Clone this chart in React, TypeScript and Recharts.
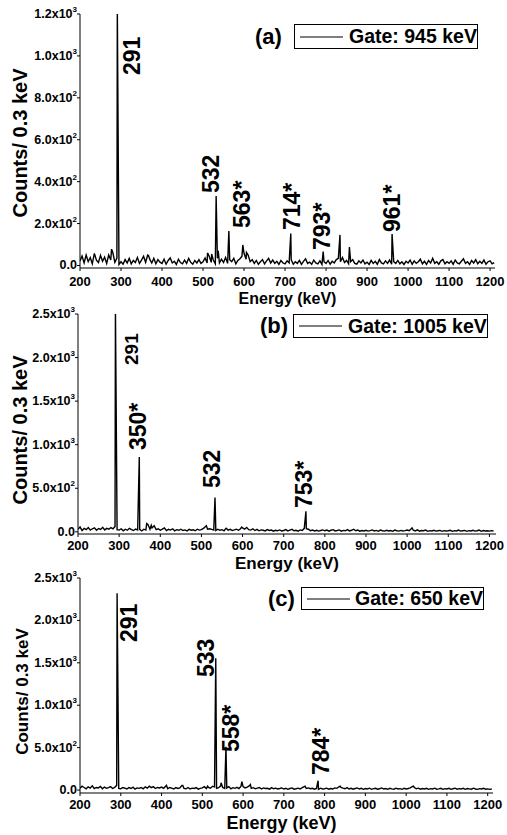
import { Legend, Line, LineChart, ReferenceDot, XAxis, YAxis } from 'recharts';

const FONT = '"Liberation Sans", Arial, Helvetica, sans-serif';

// baseline counts per 0.3 keV, read every 5 keV from 200 keV up to 1210 keV
const baseA = [
  22, 45, 12, 50, 18, 38, 8, 58, 25, 14, 48, 20, 40, 10, 50, 26, 62, 15, 35, 5,
  18, 6, 28, 12, 34, 8, 24, 14, 38, 10, 26, 44, 15, 50, 30, 12, 34, 8, 28, 16,
  10, 30, 6, 24, 36, 12, 20, 5, 30, 14, 8, 26, 10, 34, 15, 6, 24, 12, 28, 10,
  18, 36, 12, 44, 15, 26, 8, 34, 12, 30, 14, 38, 10, 28, 18, 34, 8, 24, 32, 44,
  58, 30, 50, 18, 28, 10, 24, 6, 18, 28, 8, 22, 34, 12, 26, 10, 20, 5, 24, 12,
  8, 22, 12, 28, 6, 18, 10, 24, 5, 20, 32, 10, 16, 6, 26, 12, 8, 22, 5, 18,
  10, 24, 6, 20, 12, 28, 34, 18, 38, 14, 24, 8, 18, 28, 10, 6, 22, 12, 26, 8,
  16, 5, 24, 10, 20, 6, 28, 12, 8, 22, 10, 26, 6, 18, 10, 24, 8, 18, 5, 20,
  12, 26, 6, 22, 10, 18, 30, 8, 20, 5, 24, 12, 34, 10, 18, 6, 22, 28, 8, 18,
  10, 22, 6, 26, 12, 8, 20, 32, 10, 18, 5, 24, 12, 28, 8, 20, 10, 26, 6, 18,
  22, 8, 14,
];
const baseB = [
  30, 55, 15, 40, 25, 50, 20, 35, 45, 18, 38, 28, 52, 22, 40, 30, 48, 35, 60, 25,
  20, 35, 12, 30, 18, 40, 25, 15, 32, 22, 28, 10, 30, 20, 85, 30, 45, 70, 25, 35,
  18, 30, 45, 15, 28, 20, 35, 12, 25, 18, 30, 15, 22, 10, 28, 18, 24, 12, 30, 20,
  25, 40, 60, 30, 35, 28, 20, 15, 30, 18, 25, 12, 42, 20, 28, 15, 22, 30, 18, 35,
  45, 30, 50, 25, 20, 35, 15, 28, 12, 22, 18, 10, 25, 15, 20, 8, 18, 12, 22, 10,
  15, 25, 10, 20, 28, 12, 18, 8, 22, 15, 40, 35, 30, 12, 20, 10, 18, 8, 15, 22,
  12, 20, 8, 18, 25, 10, 15, 22, 8, 16, 12, 25, 10, 18, 30, 12, 20, 8, 15, 10,
  18, 8, 14, 22, 10, 16, 6, 20, 12, 8, 18, 10, 15, 6, 20, 12, 8, 16, 10, 14,
  20, 12, 35, 18, 10, 22, 8, 15, 12, 20, 6, 14, 10, 18, 8, 12, 16, 6, 14, 10,
  12, 18, 6, 14, 10, 20, 8, 12, 16, 6, 14, 10, 18, 8, 12, 20, 6, 15, 10, 12,
  8, 14, 10,
];
const baseC = [
  20, 45, 30, 15, 38, 22, 50, 18, 30, 25, 42, 15, 35, 20, 28, 40, 18, 32, 55, 20,
  15, 30, 22, 12, 28, 18, 35, 10, 25, 20, 30, 15, 38, 22, 45, 28, 40, 18, 30, 25,
  35, 20, 45, 15, 30, 22, 12, 28, 18, 25, 55, 20, 15, 30, 12, 22, 18, 28, 10, 20,
  25, 40, 18, 30, 22, 45, 35, 20, 28, 50, 30, 18, 25, 40, 15, 28, 20, 32, 18, 45,
  40, 25, 35, 48, 20, 28, 15, 22, 30, 12, 25, 18, 20, 10, 28, 15, 22, 12, 18, 25,
  12, 20, 8, 18, 25, 10, 15, 22, 12, 28, 40, 18, 25, 15, 20, 10, 18, 8, 22, 12,
  15, 22, 10, 18, 12, 25, 20, 38, 30, 22, 15, 28, 12, 20, 10, 18, 25, 12, 20, 8,
  18, 12, 22, 8, 16, 20, 10, 15, 25, 12, 18, 8, 20, 14, 10, 22, 12, 16, 8, 20,
  12, 18, 25, 40, 30, 15, 22, 10, 18, 12, 20, 8, 16, 12, 22, 10, 14, 20, 8, 16,
  12, 20, 8, 15, 22, 10, 16, 12, 20, 8, 18, 14, 10, 22, 12, 8, 16, 12, 20, 10,
  14, 8, 12,
];

// peaks (keV, counts)
const peakEA = [277, 291, 367, 511, 521, 532, 537, 563, 597, 606, 714, 793, 834, 857, 961];
const peakCA = [78, 1230, 48, 60, 55, 332, 70, 165, 98, 62, 152, 66, 146, 88, 150];
const peakEB = [291, 349, 367, 378, 512, 533, 598, 754, 1012];
const peakCB = [2560, 860, 95, 75, 70, 395, 55, 235, 45];
const peakEC = [291, 412, 452, 513, 533, 546, 558, 597, 618, 752, 784, 838, 1018];
const peakCC = [2320, 55, 55, 45, 1555, 85, 510, 100, 65, 45, 110, 45, 45];

// peak annotations: text, and the energy / count where the text starts
const tagTextA = ['291', '532', '563*', '714*', '793*', '961*'];
const tagEA = [326, 519, 594, 716, 789, 961];
const tagCA = [909, 346, 179, 169, 74, 160];
const tagTextB = ['291', '350*', '532', '753*'];
const tagEB = [331, 347, 526, 749];
const tagCB = [1915, 939, 503, 273];
const tagTextC = ['291', '533', '558*', '784*'];
const tagEC = [320, 509, 570, 791];
const tagCC = [1745, 1333, 448, 177];

const xTicks = [200, 300, 400, 500, 600, 700, 800, 900, 1000, 1100, 1200];
const xMinorTicks = [200, 250, 300, 350, 400, 450, 500, 550, 600, 650, 700, 750, 800, 850, 900, 950, 1000, 1050, 1100, 1150, 1200];
const yTicksA = [0, 200, 400, 600, 800, 1000, 1200];
const yLabelsA = ['0.0', '2.0x10^2', '4.0x10^2', '6.0x10^2', '8.0x10^2', '1.0x10^3', '1.2x10^3'];
const yMinorA = [0, 100, 200, 300, 400, 500, 600, 700, 800, 900, 1000, 1100, 1200];
const yTicksBC = [0, 500, 1000, 1500, 2000, 2500];
const yLabelsBC = ['0.0', '5.0x10^2', '1.0x10^3', '1.5x10^3', '2.0x10^3', '2.5x10^3'];
const yMinorBC = [0, 250, 500, 750, 1000, 1250, 1500, 1750, 2000, 2250, 2500];

function buildSpectrum(base: number[], peakE: number[], peakC: number[]) {
  const rows = base.map((c, i) => ({ e: 200 + i * 5, c }));
  peakE.forEach((e, i) => rows.push({ e, c: peakC[i] }));
  return rows.sort((a, b) => a.e - b.e);
}

type PanelProps = {
  top: number;
  height: number;
  mt: number;
  mr: number;
  yw: number;
  xh: number;
  xMax: number;
  yDomain: [number, number];
  yTicks: number[];
  yLabels: string[];
  yMinor: number[];
  data: { e: number; c: number }[];
  gate: string;
  tag: string;
  tagText: string[];
  tagE: number[];
  tagC: number[];
  tagSize: number[];
  xTickDy: number;
  xTitleDy: number;
  xTitleDx: number;
  xTitleSize: number;
  yTitleDy: number;
  yTitleX: number;
  yTitleSize: number;
  legend: { left: number; top: number; boxLeft: number; boxWidth: number; boxHeight: number };
};

function Panel(p: PanelProps) {
  const lg = p.legend;
  return (
    <div style={{ position: 'absolute', left: 0, top: p.top }}>
      <LineChart width={507} height={p.height} data={p.data} margin={{ top: p.mt, right: p.mr, bottom: 0, left: 0 }}>
        <XAxis
          dataKey="e"
          type="number"
          domain={[200, p.xMax]}
          ticks={xTicks}
          interval={0}
          allowDataOverflow
          height={p.xh}
          tickSize={3}
          tickMargin={0}
          axisLine={{ stroke: '#000' }}
          tickLine={{ stroke: '#000' }}
          tick={(t: any) => (
            <text x={t.x} y={t.y + p.xTickDy} textAnchor="middle" dominantBaseline="central" fontFamily={FONT} fontWeight="bold" fontSize={13} fill="#000">
              {t.payload.value}
            </text>
          )}
          label={{
            value: 'Energy (keV)',
            content: (l: any) => (
              <text
                x={l.viewBox.x + l.viewBox.width / 2 + p.xTitleDx}
                y={l.viewBox.y + p.xTitleDy}
                textAnchor="middle"
                dominantBaseline="central"
                fontFamily={FONT}
                fontWeight="bold"
                fontSize={p.xTitleSize}
                fill="#000"
              >
                Energy (keV)
              </text>
            ),
          }}
        />
        <XAxis
          xAxisId="top"
          orientation="top"
          type="number"
          domain={[200, p.xMax]}
          ticks={xMinorTicks}
          interval={0}
          allowDataOverflow
          height={0}
          mirror
          tick={false}
          tickSize={3}
          axisLine={{ stroke: '#000' }}
          tickLine={{ stroke: '#000' }}
        />
        <YAxis
          type="number"
          domain={p.yDomain}
          ticks={p.yTicks}
          interval={0}
          allowDataOverflow
          width={p.yw}
          tickSize={3}
          tickMargin={0}
          axisLine={{ stroke: '#000' }}
          tickLine={{ stroke: '#000' }}
          tick={(t: any) => {
            const lab = p.yLabels[p.yTicks.indexOf(t.payload.value)] ?? '';
            const [mant, exp] = lab.split('^');
            return (
              <text x={t.x} y={t.y} textAnchor="end" dominantBaseline="central" fontFamily={FONT} fontWeight="bold" fontSize={12.5} fill="#000">
                {mant}
                {exp && (
                  <tspan dy={-5} fontSize={8}>
                    {exp}
                  </tspan>
                )}
              </text>
            );
          }}
          label={{
            value: 'Counts/ 0.3 keV',
            content: (l: any) => {
              const cx = p.yTitleX;
              const cy = l.viewBox.y + l.viewBox.height / 2 + p.yTitleDy;
              return (
                <text
                  x={cx}
                  y={cy}
                  transform={`rotate(-90 ${cx} ${cy})`}
                  textAnchor="middle"
                  dominantBaseline="central"
                  fontFamily={FONT}
                  fontWeight="bold"
                  fontSize={p.yTitleSize}
                  fill="#000"
                >
                  Counts/ 0.3 keV
                </text>
              );
            },
          }}
        />
        <YAxis
          yAxisId="right"
          orientation="right"
          type="number"
          domain={p.yDomain}
          ticks={p.yMinor}
          interval={0}
          allowDataOverflow
          width={0}
          mirror
          tick={false}
          tickSize={3}
          axisLine={{ stroke: '#000' }}
          tickLine={{ stroke: '#000' }}
        />
        <Line
          type="linear"
          dataKey="c"
          name={p.gate}
          stroke="#000"
          strokeWidth={1.4}
          dot={false}
          activeDot={false}
          isAnimationActive={false}
        />
        {p.tagText.map((txt, i) => (
          <ReferenceDot
            key={txt}
            x={p.tagE[i]}
            y={p.tagC[i]}
            r={0}
            ifOverflow="visible"
            shape={(s: any) => (
              <text
                x={s.cx}
                y={s.cy}
                transform={`rotate(-90 ${s.cx} ${s.cy})`}
                textAnchor="start"
                dominantBaseline="central"
                fontFamily={FONT}
                fontWeight="bold"
                fontSize={p.tagSize[i]}
                fill="#000"
              >
                {txt}
              </text>
            )}
          />
        ))}
        <Legend
          layout="horizontal"
          verticalAlign="middle"
          wrapperStyle={{ top: lg.top, left: lg.left, width: lg.boxLeft - lg.left + lg.boxWidth, height: lg.boxHeight }}
          content={(props: any) => (
            <div style={{ display: 'flex', alignItems: 'center', fontFamily: FONT, fontWeight: 'bold', color: '#000' }}>
              <span style={{ fontSize: 22, width: lg.boxLeft - lg.left, lineHeight: `${lg.boxHeight}px` }}>{p.tag}</span>
              <div
                style={{
                  boxSizing: 'border-box',
                  border: '1px solid #000',
                  width: lg.boxWidth,
                  height: lg.boxHeight,
                  display: 'flex',
                  alignItems: 'center',
                }}
              >
                <svg width={49} height={4} style={{ marginLeft: 5 }}>
                  <line x1={0} y1={2} x2={43} y2={2} stroke="#000" strokeWidth={1.1} />
                </svg>
                <span style={{ fontSize: 19.5, whiteSpace: 'nowrap' }}>{props.payload?.[0]?.value}</span>
              </div>
            </div>
          )}
        />
      </LineChart>
    </div>
  );
}

export default function App() {
  return (
    <div style={{ position: 'absolute', left: 0, top: 0, width: 507, height: 835, background: '#fff', overflow: 'hidden' }}>
      <Panel
        top={0}
        height={310}
        mt={14}
        mr={12}
        yw={80}
        xh={42}
        xMax={1212}
        yDomain={[-12, 1200]}
        yTicks={yTicksA}
        yLabels={yLabelsA}
        yMinor={yMinorA}
        data={buildSpectrum(baseA, peakEA, peakCA)}
        gate="Gate: 945 keV"
        tag="(a)"
        tagText={tagTextA}
        tagE={tagEA}
        tagC={tagCA}
        tagSize={[23, 23, 23, 23, 23, 23]}
        xTickDy={10}
        xTitleDy={30}
        xTitleDx={0}
        xTitleSize={16}
        yTitleDy={2}
        yTitleX={20}
        yTitleSize={20}
        legend={{ left: 255, top: 24, boxLeft: 294, boxWidth: 184, boxHeight: 25 }}
      />
      <Panel
        top={305}
        height={270}
        mt={9}
        mr={11}
        yw={78}
        xh={41}
        xMax={1216}
        yDomain={[-25, 2500]}
        yTicks={yTicksBC}
        yLabels={yLabelsBC}
        yMinor={yMinorBC}
        data={buildSpectrum(baseB, peakEB, peakCB)}
        gate="Gate: 1005 keV"
        tag="(b)"
        tagText={tagTextB}
        tagE={tagEB}
        tagC={tagCB}
        tagSize={[19, 23, 23, 23]}
        xTickDy={8}
        xTitleDy={29}
        xTitleDx={0}
        xTitleSize={17}
        yTitleDy={6}
        yTitleX={20}
        yTitleSize={20}
        legend={{ left: 260, top: 9, boxLeft: 293, boxWidth: 195, boxHeight: 24 }}
      />
      <Panel
        top={570}
        height={265}
        mt={8}
        mr={14}
        yw={80}
        xh={42}
        xMax={1213}
        yDomain={[-35, 2500]}
        yTicks={yTicksBC}
        yLabels={yLabelsBC}
        yMinor={yMinorBC}
        data={buildSpectrum(baseC, peakEC, peakCC)}
        gate="Gate: 650 keV"
        tag="(c)"
        tagText={tagTextC}
        tagE={tagEC}
        tagC={tagCC}
        tagSize={[23, 23, 23, 23]}
        xTickDy={8}
        xTitleDy={30}
        xTitleDx={-5}
        xTitleSize={18}
        yTitleDy={6}
        yTitleX={22}
        yTitleSize={17}
        legend={{ left: 268, top: 17, boxLeft: 301, boxWidth: 183, boxHeight: 23 }}
      />
    </div>
  );
}
